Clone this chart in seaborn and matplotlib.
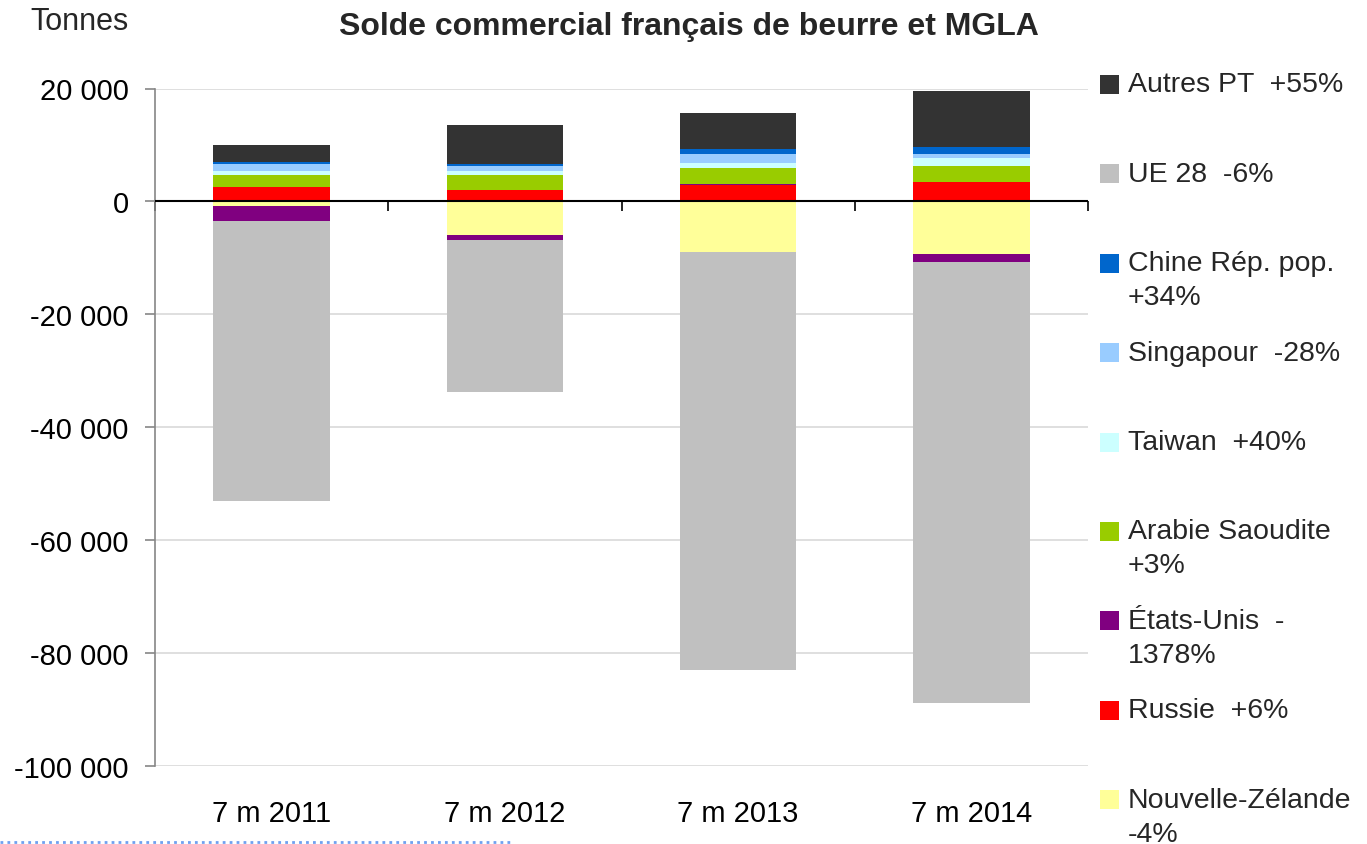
import numpy as np
import pandas as pd
import matplotlib
matplotlib.use("Agg")
import matplotlib.pyplot as plt
from matplotlib.ticker import FuncFormatter, FixedLocator
from matplotlib.patches import Rectangle
from matplotlib.lines import Line2D
import seaborn as sns

# ---------------- data ----------------
categories = ["7 m 2011", "7 m 2012", "7 m 2013", "7 m 2014"]
nouvelle_zelande = [-900, -6000, -9000, -9400]
russie = [2500, 1950, 2900, 3370]
etats_unis = [-2500, -900, 110, -1300]
arabie_saoudite = [2100, 2650, 2960, 2840]
taiwan = [700, 700, 890, 1420]
singapour = [1400, 900, 1600, 710]
chine = [350, 500, 890, 1240]
ue28 = [-49600, -26900, -74000, -78200]
autres_pt = [3000, 6900, 6390, 9940]

# series in stacking order (Excel order)
series_names = ["Nouvelle-Zélande", "Russie", "États-Unis", "Arabie Saoudite",
                "Taiwan", "Singapour", "Chine", "UE 28", "Autres PT"]
series_values = [nouvelle_zelande, russie, etats_unis, arabie_saoudite,
                 taiwan, singapour, chine, ue28, autres_pt]
series_colors = ["#FFFF99", "#FF0000", "#800080", "#99CC00",
                 "#CCFFFF", "#99CCFF", "#0066CC", "#C0C0C0", "#333333"]

# legend (top to bottom)
legend_lines = [["Autres PT  +55%"], ["UE 28  -6%"], ["Chine Rép. pop.", "+34%"],
                ["Singapour  -28%"], ["Taiwan  +40%"], ["Arabie Saoudite", "+3%"],
                ["États-Unis  -", "1378%"], ["Russie  +6%"], ["Nouvelle-Zélande", "-4%"]]
legend_colors = ["#333333", "#C0C0C0", "#0066CC", "#99CCFF", "#CCFFFF",
                 "#99CC00", "#800080", "#FF0000", "#FFFF99"]

yticks = [20000, 0, -20000, -40000, -60000, -80000, -100000]

# ---------------- figure ----------------
sns.set_theme(style="white")
plt.rcParams['font.family'] = ['Liberation Sans', 'DejaVu Sans']

W, H = 1367, 845
FS = 21
fig = plt.figure(figsize=(W / 100, H / 100), dpi=100)
ax = fig.add_axes([155 / W, 1 - 767 / H, (1088 - 155) / W, (767 - 89.5) / H])

# compute stacked segments
pos_base = np.zeros(len(categories))
neg_base = np.zeros(len(categories))
rows = []
for name, vals, col in zip(series_names, series_values, series_colors):
    vals = np.array(vals, dtype=float)
    bottoms = np.where(vals >= 0, pos_base, neg_base)
    tops = bottoms + vals
    for c, b, t in zip(categories, bottoms, tops):
        rows.append(dict(cat=c, series=name, bottom=b, top=t, height=t - b, color=col))
    pos_base = np.where(vals >= 0, tops, pos_base)
    neg_base = np.where(vals < 0, tops, neg_base)
df = pd.DataFrame(rows)

for name, col in zip(series_names, series_colors):
    sub = df[df.series == name]
    sns.barplot(data=sub, x="cat", y="height", order=categories, color=col,
                saturation=1, width=0.5, errorbar=None, linewidth=0, ax=ax,
                bottom=sub["bottom"].values, zorder=2)

ax.set_ylim(-100000, 20000)
ax.set_xlim(-0.5, 3.5)
ax.yaxis.set_major_locator(FixedLocator(yticks))
ax.yaxis.set_major_formatter(FuncFormatter(lambda v, p: f"{int(v):,}".replace(",", " ")))
ax.grid(axis="y", color="#D9D9D9", linewidth=1.2, zorder=0)
ax.set_axisbelow(True)
ax.tick_params(axis="y", which="major", left=True, length=7, width=1.2,
               color="#868686", labelsize=FS, pad=12, labelcolor="black")
ax.tick_params(axis="x", length=0, labelsize=FS, pad=24, labelcolor="black")
for s in ["top", "right", "bottom"]:
    ax.spines[s].set_visible(False)
ax.spines["left"].set_color("#868686")
ax.spines["left"].set_linewidth(1.2)
ax.set_xlabel("")
ax.set_ylabel("")

# zero axis line with category boundary ticks
ax.axhline(0, color="black", linewidth=1.5, zorder=5)
sec = ax.secondary_xaxis(100000 / 120000)
sec.set_xticks([-0.5, 0.5, 1.5, 2.5, 3.5])
sec.set_xticklabels([])
sec.tick_params(axis="x", which="both", direction="in", length=7, width=1.2,
                color="black", top=True, bottom=False)
for s in sec.spines.values():
    s.set_visible(False)

# title and unit
fig.text(689 / W, 1 - 27 / H, "Solde commercial français de beurre et MGLA",
         ha="center", va="center", fontsize=23, fontweight="bold")
fig.text(30 / W, 1 - 22 / H, "Tonnes", ha="left", va="center", fontsize=22)

# legend (manual layout)
y0, step = 85.5, 89.4
for i, (lines, col) in enumerate(zip(legend_lines, legend_colors)):
    cy = y0 + i * step
    fig.patches.append(Rectangle((1100 / W, 1 - (cy + 9.5) / H), 19 / W, 19 / H,
                                 transform=fig.transFigure, facecolor=col,
                                 edgecolor="none", figure=fig))
    for j, ln in enumerate(lines):
        fig.text(1128 / W, 1 - (cy + 7 + j * 34) / H, ln, ha="left",
                 va="baseline", fontsize=20.5)

# dotted selection line at bottom-left
fig.add_artist(Line2D([0, 510 / W], [1 - 843 / H, 1 - 843 / H],
                      transform=fig.transFigure, color="#6FA0F0",
                      linestyle=(0, (1, 1.5)), linewidth=2))

fig.savefig("out.png", dpi=100, facecolor="white")
